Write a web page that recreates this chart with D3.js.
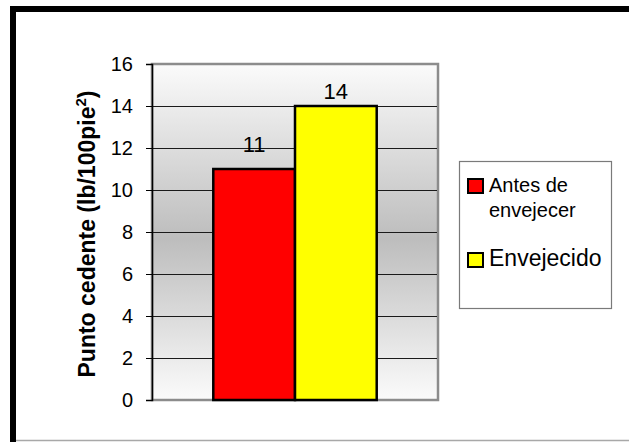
<!DOCTYPE html>
<html>
<head>
<meta charset="utf-8">
<script src="https://cdn.jsdelivr.net/npm/d3@7"></script>
<style>
  body { margin: 0; background: #fff; }
  svg text { font-family: "Liberation Sans", Arial, sans-serif; }
</style>
</head>
<body>
<div id="canvas"></div>
<script>
// data
const categories = [""];
const seriesNames = ["Antes de envejecer", "Envejecido"];
const seriesValues = [11, 14];
const seriesColors = ["#ff0000", "#ffff00"];
const legendLines = [["Antes de", "envejecer"], ["Envejecido"]];
const yTicks = [0, 2, 4, 6, 8, 10, 12, 14, 16];
const yTitle = "Punto cedente (lb/100pie";

let W = 629, H = 442;
let plot = { left: 152, right: 438, top: 64, bottom: 400 };

let svg = d3.select("#canvas")
  .append("svg")
  .attr("width", W)
  .attr("height", H);

// outer frame
svg.append("rect").attr("x", 0).attr("y", 0).attr("width", W).attr("height", H).attr("fill", "#fff");
svg.append("line").attr("x1", 10).attr("x2", W).attr("y1", 9).attr("y2", 9)
  .attr("stroke", "#000").attr("stroke-width", 6);
svg.append("line").attr("x1", 13).attr("x2", 13).attr("y1", 6).attr("y2", H)
  .attr("stroke", "#000").attr("stroke-width", 6);
svg.append("line").attr("x1", 16).attr("x2", W).attr("y1", 440.5).attr("y2", 440.5)
  .attr("stroke", "#a8a8a8").attr("stroke-width", 1.5);

// scales
let yScale = d3.scaleLinear().domain([0, 16]).range([plot.bottom, plot.top]);
let xScale = d3.scaleBand().domain(categories).range([plot.left, plot.right])
  .paddingInner(0).paddingOuter(0.375);
let xSeries = d3.scaleBand().domain(seriesNames).range([0, xScale.bandwidth()]).padding(0);

// plot background gradient
let defs = svg.append("defs");
let grad = defs.append("linearGradient").attr("id", "bg").attr("x1", 0).attr("x2", 0).attr("y1", 0).attr("y2", 1);
grad.append("stop").attr("offset", "0%").attr("stop-color", "#fbfbfb");
grad.append("stop").attr("offset", "52%").attr("stop-color", "#bdbdbd");
grad.append("stop").attr("offset", "100%").attr("stop-color", "#fbfbfb");

svg.append("rect")
  .attr("x", plot.left).attr("y", plot.top)
  .attr("width", plot.right - plot.left).attr("height", plot.bottom - plot.top)
  .attr("fill", "url(#bg)")
  .attr("stroke", "#8c8c8c").attr("stroke-width", 2.5);

// gridlines
svg.append("g")
  .selectAll("line")
  .data(yTicks.filter(d => d > 0 && d < 16))
  .enter()
  .append("line")
  .attr("x1", plot.left).attr("x2", plot.right - 1)
  .attr("y1", d => Math.round(yScale(d)) + 0.5)
  .attr("y2", d => Math.round(yScale(d)) + 0.5)
  .attr("stroke", "#1a1a1a").attr("stroke-width", 1.2);

// bars
let group = svg.append("g").attr("transform", "translate(" + xScale(categories[0]) + ",0)");
group.selectAll("rect")
  .data(seriesValues)
  .enter()
  .append("rect")
  .attr("x", (d, i) => xSeries(seriesNames[i]))
  .attr("y", d => yScale(d))
  .attr("width", xSeries.bandwidth())
  .attr("height", d => yScale(0) - yScale(d))
  .attr("fill", (d, i) => seriesColors[i])
  .attr("stroke", "#000")
  .attr("stroke-width", 2.5);

// value labels
let labelLift = [17, 7];
group.selectAll(".val")
  .data(seriesValues)
  .enter()
  .append("text")
  .attr("class", "val")
  .attr("x", (d, i) => xSeries(seriesNames[i]) + xSeries.bandwidth() / 2)
  .attr("y", (d, i) => yScale(d) - labelLift[i])
  .attr("text-anchor", "middle")
  .style("font-size", "22px")
  .text(d => d);

// y axis
let yAxis = svg.append("g")
  .attr("transform", "translate(" + plot.left + ",0)")
  .call(d3.axisLeft(yScale).tickValues(yTicks).tickSize(6).tickPadding(13));
yAxis.select(".domain").attr("stroke", "#000").attr("stroke-width", 1.5);
yAxis.selectAll(".tick line").attr("stroke", "#000");
yAxis.selectAll("text")
  .style("font-size", "20px")
  .style("font-family", "'Liberation Sans', Arial, sans-serif")
  .attr("fill", "#000");

// y title
let title = svg.append("text")
  .attr("transform", "translate(95,234) rotate(-90)")
  .attr("text-anchor", "middle")
  .style("font-size", "23px")
  .style("font-weight", "bold");
title.append("tspan").text(yTitle);
title.append("tspan").attr("dy", -9).style("font-size", "15px").text("2");
title.append("tspan").attr("dy", 9).text(")");

// legend
let legend = svg.append("g").attr("transform", "translate(459,161)");
legend.append("rect")
  .attr("x", 0.5).attr("y", 0.5).attr("width", 152).attr("height", 147)
  .attr("fill", "#fff").attr("stroke", "#7a7a7a").attr("stroke-width", 1.2);

let legendFont = [20, 23];
let legendTop = [31, 105];
let items = legend.selectAll(".item")
  .data(seriesNames)
  .enter()
  .append("g")
  .attr("class", "item")
  .attr("transform", (d, i) => "translate(0," + legendTop[i] + ")");

items.append("rect")
  .attr("x", 9).attr("y", -13).attr("width", 15).attr("height", 14)
  .attr("fill", (d, i) => seriesColors[i])
  .attr("stroke", "#000").attr("stroke-width", 2);

items.each(function (d, i) {
  let t = d3.select(this).append("text")
    .attr("x", 30).attr("y", 0)
    .style("font-size", legendFont[i] + "px");
  legendLines[i].forEach((line, j) => {
    t.append("tspan").attr("x", 30).attr("dy", j === 0 ? 0 : 25).text(line);
  });
});
</script>
</body>
</html>
